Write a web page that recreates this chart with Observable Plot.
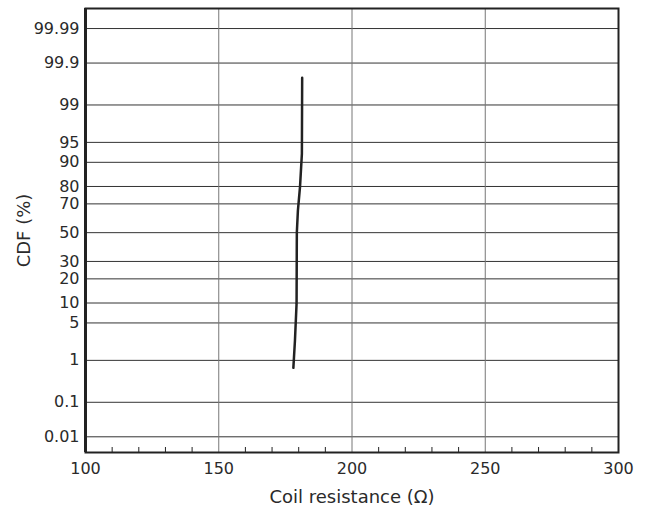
<!DOCTYPE html>
<html>
<head>
<meta charset="utf-8">
<script src="https://cdn.jsdelivr.net/npm/d3@7"></script>
<script src="https://cdn.jsdelivr.net/npm/@observablehq/plot@0.6"></script>
<style>
  html, body { margin: 0; padding: 0; background: #fff; }
</style>
</head>
<body>
<div id="chart"></div>
<script>
// ---- data ----
const resistance = [178.0, 178.6, 179.2, 179.3, 179.7, 180.5, 181.2, 181.3];
const cdfPercent = [0.69, 2.5, 9.8, 50, 65.6, 79.9, 92.5, 99.76];
const yTickValues = [0.01, 0.1, 1, 5, 10, 20, 30, 50, 70, 80, 90, 95, 99, 99.9, 99.99];
const yTickLabels = ["0.01", "0.1", "1", "5", "10", "20", "30", "50", "70", "80", "90", "95", "99", "99.9", "99.99"];
const xTickValues = [100, 150, 200, 250, 300];
const xGridValues = [150, 200, 250];
const xMinorTicks = [110, 120, 130, 140, 160, 170, 180, 190, 210, 220, 230, 240, 260, 270, 280, 290];
const xLabel = "Coil resistance (Ω)";
const yLabel = "CDF (%)";

// inverse standard normal CDF (Acklam) for the probability-paper axis
function probit(p) {
  const a = [-3.969683028665376e+01, 2.209460984245205e+02, -2.759285104469687e+02, 1.383577518672690e+02, -3.066479806614716e+01, 2.506628277459239e+00];
  const b = [-5.447609879822406e+01, 1.615858368580409e+02, -1.556989798598866e+02, 6.680131188771972e+01, -1.328068155288572e+01];
  const c = [-7.784894002430293e-03, -3.223964580411365e-01, -2.400758277161838e+00, -2.549732539343734e+00, 4.374664141464968e+00, 2.938163982698783e+00];
  const d = [7.784695709041462e-03, 3.224671290700398e-01, 2.445134137142996e+00, 3.754408661907416e+00];
  const pl = 0.02425, ph = 1 - pl;
  let q, r;
  if (p < pl) {
    q = Math.sqrt(-2 * Math.log(p));
    return (((((c[0]*q+c[1])*q+c[2])*q+c[3])*q+c[4])*q+c[5]) / ((((d[0]*q+d[1])*q+d[2])*q+d[3])*q+1);
  } else if (p <= ph) {
    q = p - 0.5; r = q * q;
    return (((((a[0]*r+a[1])*r+a[2])*r+a[3])*r+a[4])*r+a[5])*q / (((((b[0]*r+b[1])*r+b[2])*r+b[3])*r+b[4])*r+1);
  } else {
    q = Math.sqrt(-2 * Math.log(1 - p));
    return -(((((c[0]*q+c[1])*q+c[2])*q+c[3])*q+c[4])*q+c[5]) / ((((d[0]*q+d[1])*q+d[2])*q+d[3])*q+1);
  }
}
const zOf = v => probit(v / 100);

const series = resistance.map((x, i) => ({x, z: zOf(cdfPercent[i])}));
const yTickZ = yTickValues.map(zOf);
const labelByZ = new Map(yTickZ.map((z, i) => [z, yTickLabels[i]]));

const ink = "#222";
const textInk = "#2a2a2a";

const chart = Plot.plot({
  width: 648,
  height: 518,
  marginLeft: 85,
  marginRight: 30,
  marginTop: 8,
  marginBottom: 66,
  style: {fontFamily: "DejaVu Sans", fontSize: "16px", color: textInk, background: "#fff"},
  x: {domain: [100, 300]},
  y: {domain: [-4.005, 4.084]},
  marks: [
    Plot.ruleY(yTickZ, {stroke: "#333", strokeWidth: 1}),
    Plot.ruleX(xGridValues, {stroke: "#777", strokeWidth: 1}),
    Plot.axisX({ticks: xMinorTicks, tickSize: -5, tickFormat: () => "", stroke: ink, label: null}),
    Plot.axisX({ticks: xTickValues, tickSize: 0, tickPadding: 10, fontSize: 16, label: null, tickFormat: d => String(d)}),
    Plot.axisY({ticks: yTickZ, tickSize: 0, tickPadding: 6, fontSize: 16, label: null, tickFormat: z => labelByZ.get(z)}),
    Plot.frame({stroke: ink, strokeWidth: 2}),
    Plot.ruleX([100], {stroke: ink, strokeWidth: 3}),
    Plot.line(series, {x: "x", y: "z", stroke: ink, strokeWidth: 2.5, curve: "linear"}),
    Plot.text([xLabel], {text: d => d, frameAnchor: "bottom", dy: 50, fontSize: 18, fill: textInk}),
    Plot.text([yLabel], {text: d => d, frameAnchor: "left", dx: -61, rotate: -90, textAnchor: "middle", fontSize: 18, fill: textInk})
  ]
});
document.getElementById("chart").appendChild(chart);
</script>
</body>
</html>
